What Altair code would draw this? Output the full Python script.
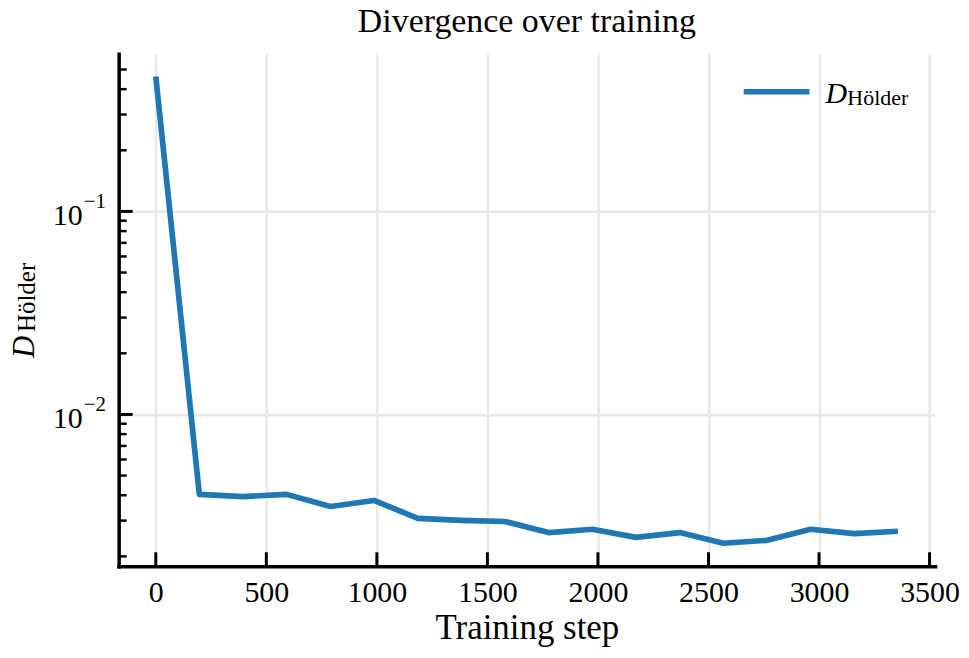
import altair as alt
import pandas as pd

steps = [0, 197, 395, 592, 790, 987, 1185, 1382, 1580, 1777, 1975, 2172, 2370, 2567, 2765, 2962, 3160, 3357]
d_holder = [0.462, 0.00404, 0.00394, 0.00404, 0.00352, 0.00377, 0.00308, 0.00301, 0.00297,
            0.00262, 0.00272, 0.00248, 0.00262, 0.00232, 0.00240, 0.00272, 0.00259, 0.00266]

x_ticks = [0, 500, 1000, 1500, 2000, 2500, 3000, 3500]
y_major = [0.1, 0.01]
y_major_exp = ["\u22121", "\u22122"]
y_minor = [0.002, 0.003, 0.004, 0.005, 0.006, 0.007, 0.008, 0.009,
           0.02, 0.03, 0.04, 0.05, 0.06, 0.07, 0.08, 0.09,
           0.2, 0.3, 0.4, 0.5]
title_text = "Divergence over training"

FONT = "Liberation Serif"
BLUE = "#1f77b4"
W, H = 819, 514

xs = alt.Scale(domain=[-168, 3525], nice=False, zero=False)
ys = alt.Scale(type="log", domain=[0.001788, 0.597], nice=False)

df = pd.DataFrame({"step": steps, "D": d_holder})
df_xt = pd.DataFrame({"xt": x_ticks})
df_ymaj = pd.DataFrame({"yt": y_major, "exp": y_major_exp})
df_ymin = pd.DataFrame({"yt": y_minor})
one = pd.DataFrame({"k": [0]})

line = alt.Chart(df).mark_line(color=BLUE, strokeWidth=5.7, strokeJoin="round").encode(
    x=alt.X("step:Q", scale=xs,
            axis=alt.Axis(values=x_ticks, format="d", title="Training step", titleFont=FONT,
                          titleFontSize=35, titleFontWeight="normal", titleColor="black", titleY=72,
                          titleBaseline="alphabetic",
                          labelFont=FONT, labelFontSize=30, labelColor="black", labelPadding=11,
                          ticks=False, domainColor="black", domainWidth=3.5, domainCap="square",
                          grid=True, gridColor="#e8e8e8", gridWidth=2.5, labelFlush=False)),
    y=alt.Y("D:Q", scale=ys,
            axis=alt.Axis(values=y_major, title=None, labels=False, ticks=False,
                          domainColor="black", domainWidth=3.5, domainCap="square",
                          grid=True, gridColor="#e8e8e8", gridWidth=2.5)),
)

xtick = alt.Chart(df_xt).mark_rule(color="black", strokeWidth=3).encode(
    x=alt.X("xt:Q", scale=xs), y=alt.value(H), y2=alt.value(H - 14))
ymaj = alt.Chart(df_ymaj).mark_rule(color="black", strokeWidth=3).encode(
    y=alt.Y("yt:Q", scale=ys), x=alt.value(0), x2=alt.value(14))
ymin = alt.Chart(df_ymin).mark_rule(color="black", strokeWidth=2.5).encode(
    y=alt.Y("yt:Q", scale=ys), x=alt.value(0), x2=alt.value(8))

ybase = alt.Chart(df_ymaj).mark_text(font=FONT, fontSize=30, align="right", baseline="alphabetic",
                                     dy=14, color="black").encode(
    y=alt.Y("yt:Q", scale=ys), x=alt.value(-36), text=alt.value("10"))
yexp = alt.Chart(df_ymaj).mark_text(font=FONT, fontSize=21, align="left", baseline="alphabetic",
                                    dy=-3, color="black").encode(
    y=alt.Y("yt:Q", scale=ys), x=alt.value(-35), text="exp:N")

ytitle_d = alt.Chart(one).mark_text(font=FONT, fontSize=31, fontStyle="italic", angle=270,
                                    align="left", baseline="alphabetic", color="black").encode(
    x=alt.value(-85), y=alt.value(305), text=alt.value("D"))
ytitle_s = alt.Chart(one).mark_text(font=FONT, fontSize=25, angle=270,
                                    align="left", baseline="alphabetic", color="black").encode(
    x=alt.value(-84), y=alt.value(279), text=alt.value("Hölder"))

leg_line = alt.Chart(one).mark_rule(color=BLUE, strokeWidth=5.7).encode(
    x=alt.value(627), x2=alt.value(693), y=alt.value(38))
leg_d = alt.Chart(one).mark_text(font=FONT, fontSize=30, fontStyle="italic", align="left",
                                 baseline="alphabetic", color="black").encode(
    x=alt.value(709), y=alt.value(49), text=alt.value("D"))
leg_s = alt.Chart(one).mark_text(font=FONT, fontSize=22, align="left",
                                 baseline="alphabetic", color="black").encode(
    x=alt.value(731), y=alt.value(51), text=alt.value("Hölder"))

title = alt.Chart(one).mark_text(font=FONT, fontSize=34, align="center",
                                 baseline="alphabetic", color="black").encode(
    x=alt.value(W / 2), y=alt.value(-22), text=alt.value(title_text))

chart = alt.layer(
    line, xtick, ymaj, ymin, ybase, yexp, ytitle_d, ytitle_s, leg_line, leg_d, leg_s, title
).properties(
    width=W, height=H,
    autosize=alt.AutoSizeParams(type="none"),
    padding={"left": 111, "top": 45, "right": 26, "bottom": 80},
    background="white",
).configure_view(stroke=None)

chart.save("out.html", embed_options={"renderer": "svg", "actions": False})
